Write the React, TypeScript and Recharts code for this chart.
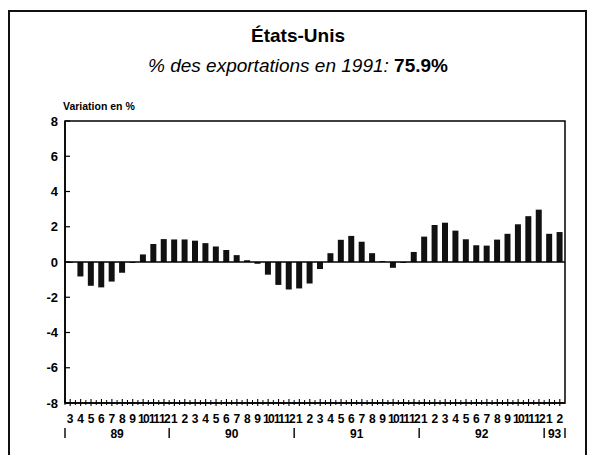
import { BarChart, Bar, XAxis, YAxis, ReferenceLine, ReferenceArea } from "recharts";

// monthly labels, March 1989 -> February 1993
const months = [
  "3", "4", "5", "6", "7", "8", "9", "10", "11", "12",
  "1", "2", "3", "4", "5", "6", "7", "8", "9", "10", "11", "12",
  "1", "2", "3", "4", "5", "6", "7", "8", "9", "10", "11", "12",
  "1", "2", "3", "4", "5", "6", "7", "8", "9", "10", "11", "12",
  "1", "2",
];

const variation = [
  -0.05, -0.82, -1.35, -1.44, -1.11, -0.61, -0.05, 0.43, 1.02, 1.3,
  1.28, 1.28, 1.21, 1.07, 0.88, 0.68, 0.39, 0.1, -0.1, -0.72, -1.3, -1.56,
  -1.5, -1.22, -0.4, 0.5, 1.26, 1.48, 1.15, 0.5, 0.05, -0.33, -0.05, 0.57,
  1.44, 2.1, 2.23, 1.78, 1.29, 0.95, 0.93, 1.27, 1.6, 2.14, 2.6, 2.97,
  1.6, 1.7,
];

const yearLabels = ["89", "90", "91", "92", "93"];
const yTicks = [-8, -6, -4, -2, 0, 2, 4, 6, 8];

const FONT = "'Liberation Sans', Arial, Helvetica, sans-serif";
const PLOT_W = 500;
const HALF_BAND = PLOT_W / months.length / 2;

// year index of every bar: a new year starts at each month "1"
const yearIndex: number[] = [];
months.forEach((m, i) => {
  const prev = i === 0 ? 0 : yearIndex[i - 1];
  yearIndex.push(i > 0 && m === "1" ? prev + 1 : prev);
});

const data = months.map((m, i) => ({
  key: `${i}`,
  month: m,
  year: yearLabels[yearIndex[i]],
  value: variation[i],
}));

// fractional bar index on which each year label is centered
function yearCenterIndex(y: number) {
  const idx = data.map((_, i) => i).filter((i) => yearIndex[i] === y);
  return idx[0] + (idx.length - 1) / 2;
}
const yearCenters = yearLabels.map((_, y) => yearCenterIndex(y));

type TickProps = { x?: number; y?: number; payload?: { value?: string | number; index?: number }; index?: number };

function MonthTick({ x = 0, y = 0, payload, index }: TickProps) {
  const i = payload?.index ?? index ?? 0;
  const label = months[i];
  const startsYear = i === 0 || label === "1";
  const isLast = i === months.length - 1;
  const els: React.ReactNode[] = [];
  els.push(<line key="t1" x1={x} x2={x} y1={y - 4} y2={y + 3} stroke="#000" strokeWidth={1.1} />);
  els.push(<line key="t2" x1={x - HALF_BAND} x2={x - HALF_BAND} y1={y - 3} y2={y + 2} stroke="#000" strokeWidth={1} />);
  els.push(
    <text key="m" x={x} y={y + 20} textAnchor="middle" fontFamily={FONT} fontWeight="bold" fontSize={12}
      letterSpacing={label.length > 1 ? -1.6 : 0} fill="#000">
      {label}
    </text>
  );
  if (startsYear) {
    els.push(<line key="s" x1={x - HALF_BAND} x2={x - HALF_BAND} y1={y + 25} y2={y + 35} stroke="#000" strokeWidth={1.4} />);
  }
  if (isLast) {
    els.push(<line key="e" x1={x + HALF_BAND} x2={x + HALF_BAND} y1={y + 25} y2={y + 35} stroke="#000" strokeWidth={1.4} />);
  }
  yearCenters.forEach((c, yi) => {
    if (Math.floor(c) === i) {
      const off = (c - i) * HALF_BAND * 2;
      els.push(
        <text key={`y${yi}`} x={x + off} y={y + 35} textAnchor="middle" fontFamily={FONT} fontWeight="bold" fontSize={12} fill="#000">
          {yearLabels[yi]}
        </text>
      );
    }
  });
  return <g>{els}</g>;
}

function ValueTick({ x = 0, y = 0, payload }: TickProps) {
  return (
    <g>
      <line x1={x} x2={x + 5} y1={y} y2={y} stroke="#000" strokeWidth={1.2} />
      <text x={x - 7} y={y + 4.5} textAnchor="end" fontFamily={FONT} fontWeight="bold" fontSize={13} fill="#000">
        {payload?.value}
      </text>
    </g>
  );
}

export default function App() {
  return (
    <div style={{ position: "absolute", left: 0, top: 0, width: 596, height: 455, background: "#fff", overflow: "hidden" }}>
      <div style={{ position: "absolute", left: 8, top: 10, width: 579, height: 470, border: "2px solid #111", boxSizing: "border-box" }} />
      <div style={{ position: "absolute", left: 0, top: 25, width: 596, textAlign: "center", fontFamily: FONT, fontWeight: "bold", fontSize: 19, color: "#000", lineHeight: "22px" }}>
        États-Unis
      </div>
      <div style={{ position: "absolute", left: 0, top: 55, width: 596, textAlign: "center", fontFamily: FONT, fontSize: 19, color: "#000", lineHeight: "22px" }}>
        <span style={{ fontStyle: "italic" }}>% des exportations en 1991: </span>
        <span style={{ fontWeight: "bold" }}>75.9%</span>
      </div>
      <div style={{ position: "absolute", left: 63, top: 100, fontFamily: FONT, fontWeight: "bold", fontSize: 10.5, color: "#000", lineHeight: "12px" }}>
        Variation en %
      </div>
      <div style={{ position: "absolute", left: 0, top: 0 }}>
        <BarChart width={596} height={455} data={data} margin={{ top: 121, right: 31, bottom: 2, left: 40 }} barCategoryGap={0}>
          <XAxis dataKey="key" interval={0} tickSize={0} tickMargin={0} height={50} axisLine={{ stroke: "#000", strokeWidth: 1.5 }}
            tickLine={false} tick={<MonthTick />} />
          <YAxis domain={[-8, 8]} ticks={yTicks} interval={0} width={25} tickSize={0} tickMargin={0} tickLine={false}
            axisLine={{ stroke: "#000", strokeWidth: 1.5 }} tick={<ValueTick />} />
          <ReferenceArea y1={-8} y2={8} fill="none" fillOpacity={0} stroke="#000" strokeWidth={1.5} ifOverflow="visible" />
          <ReferenceLine y={0} stroke="#000" strokeWidth={1.6} />
          <Bar dataKey="value" fill="#111" barSize={6} isAnimationActive={false} />
        </BarChart>
      </div>
    </div>
  );
}
